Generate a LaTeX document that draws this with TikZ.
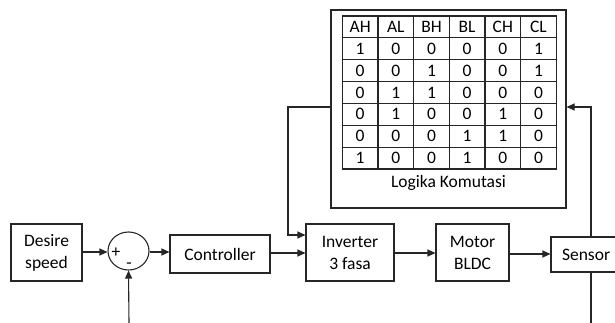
\documentclass[tikz,border=0pt]{standalone}
\usepackage{fontspec}
\setmainfont{Carlito}
\usetikzlibrary{arrows.meta,shapes.geometric}
\begin{document}
\begin{tikzpicture}[x=1pt,y=-1pt,
  ln/.style={line width=1.1pt,draw=black!85},
  arr/.style={ln,-{Triangle[length=8pt,width=7pt]}},
  blk/.style={ln,rectangle,inner sep=0pt,align=center,font=\fontsize{17.5}{22}\selectfont},
  cell/.style={ln,rectangle,minimum width=35.67pt,minimum height=21.86pt,inner sep=0pt,font=\fontsize{17.5}{20}\selectfont},
  lbl/.style={inner sep=0pt,font=\fontsize{17.5}{20}\selectfont}]
\clip (0,0) rectangle (615,323);
\useasboundingbox (0,0) rectangle (615,323);
% blocks
\node[blk,minimum width=71pt,minimum height=57pt] (desire) at (46.5,252.5) {Desire\\speed};
\node[ln,ellipse,minimum width=41pt,minimum height=38pt,inner sep=0pt] (sum) at (128.5,251) {};
\node[lbl] (plus) at (116,253) {+};
\node[lbl] (minus) at (129,266) {-};
\node[blk,minimum width=100pt,minimum height=38pt] (ctrl) at (220,254) {Controller};
\node[blk,minimum width=88pt,minimum height=57pt] (inv) at (350,252.5) {Inverter\\3 fasa};
\node[blk,minimum width=73pt,minimum height=57pt] (motor) at (472.5,252.5) {Motor\\BLDC};
\node[blk,minimum width=80pt,minimum height=35pt,text width=64pt,align=left] (sensor) at (591,254.5) {\hspace*{3pt}Sensor};
% logika box
\node[ln,rectangle,minimum width=235pt,minimum height=198pt,inner sep=0pt] (logika) at (448.5,109) {};
\node[lbl] (logtxt) at (448.5,183) {Logika Komutasi};
% table
\foreach \r/\vals in {0/{AH,AL,BH,BL,CH,CL},1/{1,0,0,0,0,1},2/{0,0,1,0,0,1},3/{0,1,1,0,0,0},4/{0,1,0,0,1,0},5/{0,0,0,1,1,0},6/{1,0,0,1,0,0}}{
  \foreach \v [count=\c from 0] in \vals {
    \node[cell] (t\r\c) at ({342.3+35.67*\c+17.835},{16+21.86*\r+10.93}) {\v};
  }
}
% coordinates
\coordinate (fbL) at (288,107);
\coordinate (fbR) at (591,107);
\coordinate (bot1) at (129,323);
\coordinate (bot2) at (591,323);
% connectors
\draw[arr] (desire.east |- 0,252) -- (sum.west |- 0,252);
\draw[arr] (sum.east |- 0,252) -- (ctrl.west |- 0,252);
\draw[arr] (ctrl.east |- 0,253) -- (inv.west |- 0,253);
\draw[arr] (inv.east |- 0,253) -- (motor.west |- 0,253);
\draw[arr] (motor.east |- 0,254) -- (sensor.west |- 0,254);
\draw[arr] (logika.west |- fbL) -- (fbL) -- (fbL |- 0,235) -- (inv.west |- 0,235);
\draw[arr] (sensor.north -| fbR) -- (fbR) -- (logika.east |- fbR);
\draw[ln] (sensor.south -| bot2) -- (bot2);
\draw[arr] (bot1) -- (sum.south);
\end{tikzpicture}
\end{document}
